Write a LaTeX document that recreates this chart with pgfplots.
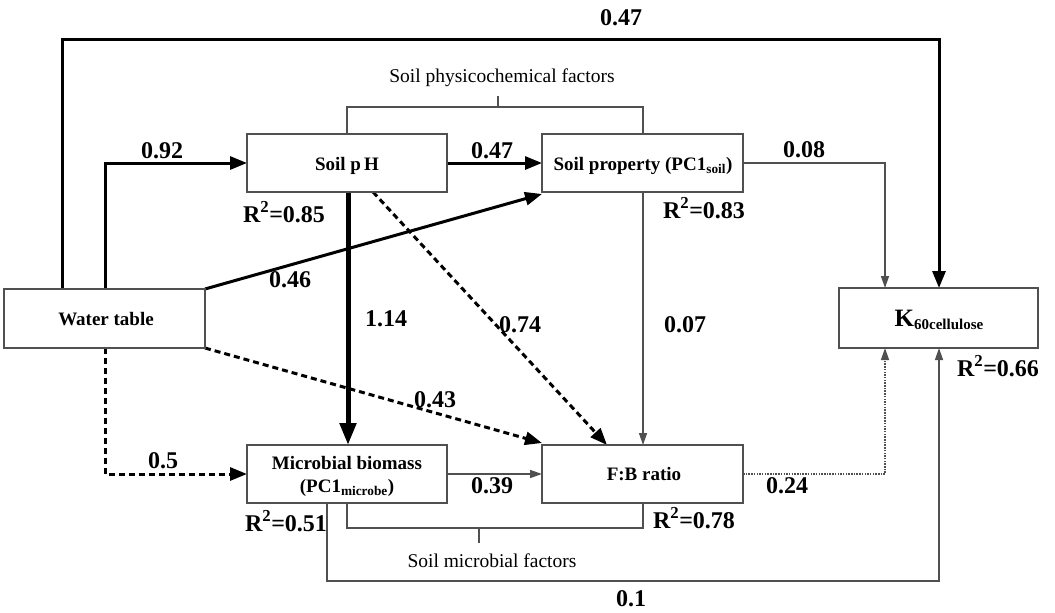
\documentclass[border=0pt]{standalone}
\usepackage{fontspec}
\setmainfont{Liberation Serif}
\usepackage{pgfplots}
\pgfplotsset{compat=1.18}
\usetikzlibrary{arrows.meta}
\definecolor{ln}{RGB}{80,80,80}

\newcommand\coef{\fontsize{24}{24}\selectfont\bfseries}
\newcommand\boxf{\fontsize{19}{19}\selectfont\bfseries}
\newcommand\grpf{\fontsize{19.5}{20}\selectfont}

\begin{document}
\begin{tikzpicture}[
  thickarr/.style={black, line width=3pt, line join=miter, -{Triangle[length=17pt,width=13pt]}},
  thinarr/.style={ln, line width=1.4pt, -{Triangle[length=12pt,width=8pt]}},
  dasharr/.style={thickarr, dash pattern=on 6pt off 4pt},
  frame/.style={ln, line width=1.3pt, fill=white},
  txt/.style={anchor=base, inner sep=0pt},
]
\begin{axis}[
  width=1055pt, height=613pt, scale only axis,
  xmin=0, xmax=1055, ymin=0, ymax=613, y dir=reverse,
  hide axis, clip=false,
  every axis plot/.append style={no markers},
]
% paths (pixel coordinates, y downward)
\addplot[thickarr] coordinates {(62,289) (62,39) (939,39) (939,288)};        % 0.47
\addplot[thickarr] coordinates {(105,289) (105,163) (247,163)};               % 0.92
\addplot[thickarr] coordinates {(447,163) (542,163)};                         % 0.47
\addplot[thickarr] coordinates {(205,289) (542,194)};                         % 0.46
\addplot[thickarr, line width=5pt, -{Triangle[length=22pt,width=16pt]}] coordinates {(348,192) (348,445)}; % 1.14
\addplot[dasharr] coordinates {(373,192) (607,445)};                          % 0.74
\addplot[dasharr] coordinates {(205,348) (542,443)};                          % 0.43
\addplot[dasharr] coordinates {(105,348) (105,474) (247,474)};                % 0.5
\addplot[thinarr] coordinates {(643,192) (643,445)};                          % 0.07
\addplot[thinarr] coordinates {(743,163) (885,163) (885,288)};                % 0.08
\addplot[thinarr] coordinates {(447,474) (542,474)};                          % 0.39
\addplot[thinarr, dash pattern=on 1.5pt off 1.2pt] coordinates {(743,474) (885,474) (885,348)}; % 0.24
\addplot[thinarr] coordinates {(327,503) (327,581) (939,581) (939,348)};      % 0.1
% group brackets
\addplot[ln, line width=1.3pt] coordinates {(347,134) (347,107) (643,107) (643,134)};
\addplot[ln, line width=1.3pt] coordinates {(498,107) (498,96)};
\addplot[ln, line width=1.3pt] coordinates {(347,503) (347,528) (643,528) (643,503)};
\addplot[ln, line width=1.3pt] coordinates {(479,528) (479,543)};
% boxes
\addplot[frame] coordinates {(4,289) (205,289) (205,348) (4,348)} -- cycle;
\addplot[frame] coordinates {(247,134) (447,134) (447,192) (247,192)} -- cycle;
\addplot[frame] coordinates {(542,134) (743,134) (743,192) (542,192)} -- cycle;
\addplot[frame] coordinates {(839,288) (1038,288) (1038,348) (839,348)} -- cycle;
\addplot[frame] coordinates {(247,445) (447,445) (447,503) (247,503)} -- cycle;
\addplot[frame] coordinates {(542,445) (743,445) (743,503) (542,503)} -- cycle;

% box texts
\node[txt] at (axis cs:347,170) {\boxf Soil p\,H};
\node[txt] at (axis cs:643,170) {\boxf Soil property (PC1\textsubscript{soil})};
\node[txt] at (axis cs:106,325) {\boxf Water table};
\node[txt] at (axis cs:347,469) {\boxf Microbial biomass};
\node[txt] at (axis cs:347,492) {\boxf (PC1\textsubscript{microbe})};
\node[txt] at (axis cs:644,480) {\boxf F:B ratio};
\node[txt] at (axis cs:939,326) {\bfseries\fontsize{25}{25}\selectfont K\raisebox{-0.3ex}{\fontsize{15}{15}\selectfont 60cellulose}};
\node[txt] at (axis cs:502,82) {\grpf Soil physicochemical factors};
\node[txt] at (axis cs:492,567) {\grpf Soil microbial factors};

% coefficients
\node[txt] at (axis cs:621,25) {\coef 0.47};
\node[txt] at (axis cs:162,158) {\coef 0.92};
\node[txt] at (axis cs:492,158) {\coef 0.47};
\node[txt] at (axis cs:804,157) {\coef 0.08};
\node[txt] at (axis cs:290,287) {\coef 0.46};
\node[txt] at (axis cs:386,326) {\coef 1.14};
\node[txt] at (axis cs:520,332) {\coef 0.74};
\node[txt] at (axis cs:685,332) {\coef 0.07};
\node[txt] at (axis cs:435,407) {\coef 0.43};
\node[txt] at (axis cs:163,468) {\coef 0.5};
\node[txt] at (axis cs:492,493) {\coef 0.39};
\node[txt] at (axis cs:787,493) {\coef 0.24};
\node[txt] at (axis cs:631,606) {\coef 0.1};

% R squared
\node[txt] at (axis cs:284,222) {\coef R\textsuperscript{2}=0.85};
\node[txt] at (axis cs:704,218) {\coef R\textsuperscript{2}=0.83};
\node[txt] at (axis cs:286,531) {\coef R\textsuperscript{2}=0.51};
\node[txt] at (axis cs:694,528) {\coef R\textsuperscript{2}=0.78};
\node[txt] at (axis cs:998,376) {\coef R\textsuperscript{2}=0.66};
\end{axis}
\pgfresetboundingbox
\path (0,0) rectangle (1055pt,613pt);
\end{tikzpicture}
\end{document}
